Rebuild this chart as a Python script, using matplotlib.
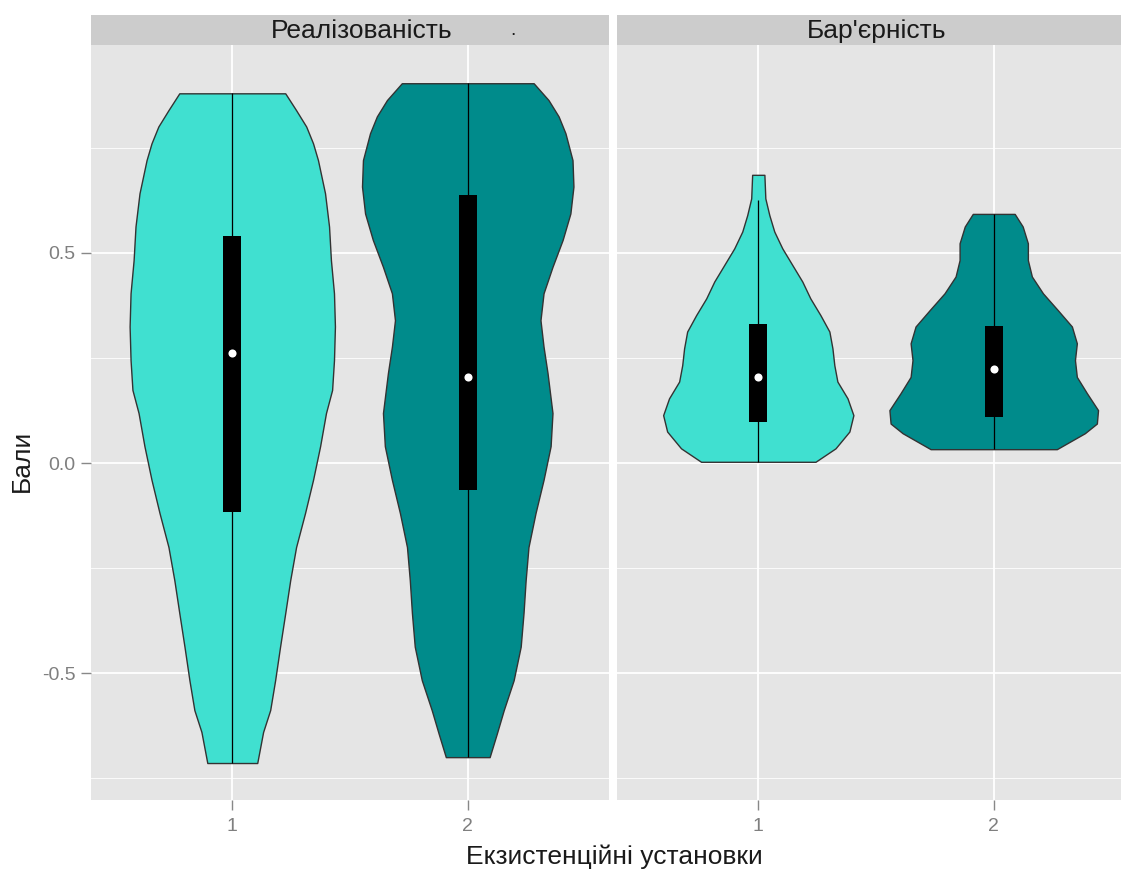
import numpy as np
import matplotlib.pyplot as plt

plt.rcParams['font.family'] = ['Liberation Sans', 'DejaVu Sans']

groups = [1, 2]
fills = ['#40E0D0', '#008B8B']
panel_names = ['Реалізованість', "Бар'єрність"]

# violin outlines: y level and half width (x units)
real1_y = [0.880, 0.840, 0.801, 0.761, 0.721, 0.642, 0.563, 0.483, 0.404, 0.325, 0.245, 0.174,
           0.119, 0.040, -0.040, -0.119, -0.200, -0.279, -0.357, -0.437, -0.517, -0.588, -0.640, -0.714]
real1_w = [0.225, 0.271, 0.314, 0.343, 0.364, 0.394, 0.411, 0.419, 0.432, 0.436, 0.432, 0.424,
           0.398, 0.373, 0.343, 0.309, 0.271, 0.246, 0.225, 0.203, 0.182, 0.161, 0.131, 0.106]
real2_y = [0.904, 0.864, 0.825, 0.785, 0.721, 0.658, 0.594, 0.531, 0.467, 0.404, 0.340, 0.277,
           0.214, 0.119, 0.040, -0.040, -0.119, -0.200, -0.279, -0.357, -0.437, -0.517, -0.588,
           -0.645, -0.700]
real2_w = [0.280, 0.343, 0.386, 0.415, 0.445, 0.449, 0.436, 0.403, 0.360, 0.322, 0.309, 0.322,
           0.339, 0.360, 0.352, 0.322, 0.288, 0.258, 0.246, 0.237, 0.225, 0.195, 0.153,
           0.123, 0.093]
bar1_y = [0.686, 0.630, 0.590, 0.551, 0.511, 0.471, 0.432, 0.392, 0.352, 0.313, 0.273, 0.233,
          0.194, 0.154, 0.114, 0.075, 0.035, 0.003]
bar1_w = [0.026, 0.030, 0.047, 0.068, 0.102, 0.145, 0.187, 0.221, 0.264, 0.302, 0.315, 0.323,
          0.336, 0.379, 0.404, 0.387, 0.328, 0.243]
bar2_y = [0.593, 0.563, 0.523, 0.483, 0.444, 0.404, 0.364, 0.325, 0.285, 0.245, 0.205, 0.166,
          0.126, 0.094, 0.071, 0.033]
bar2_w = [0.089, 0.123, 0.145, 0.145, 0.162, 0.209, 0.272, 0.332, 0.353, 0.345, 0.353, 0.396,
          0.443, 0.438, 0.387, 0.268]

# box plot stats
real_q1 = [-0.117, -0.064]
real_q3 = [0.540, 0.638]
real_med = [0.262, 0.205]
real_lo = [-0.714, -0.700]
real_hi = [0.880, 0.904]
bar_q1 = [0.098, 0.109]
bar_q3 = [0.330, 0.326]
bar_med = [0.205, 0.224]
bar_lo = [0.003, 0.033]
bar_hi = [0.626, 0.593]

panels = [
    ([(real1_y, real1_w), (real2_y, real2_w)], real_q1, real_q3, real_med, real_lo, real_hi),
    ([(bar1_y, bar1_w), (bar2_y, bar2_w)], bar_q1, bar_q3, bar_med, bar_lo, bar_hi),
]

W, H = 1121, 869
fig = plt.figure(figsize=(W / 100, H / 100), dpi=100)

# panel positions in pixels (left, right); right panel runs past the image edge
panel_px = [(91, 609), (617, 1135)]
top_px, bot_px, strip_top = 45, 800, 15

for k, (px, pdata) in enumerate(zip(panel_px, panels)):
    x0, x1 = px
    ax = fig.add_axes([x0 / W, 1 - bot_px / H, (x1 - x0) / W, (bot_px - top_px) / H])
    ax.set_facecolor('#E5E5E5')
    for s in ax.spines.values():
        s.set_visible(False)
    ax.set_xlim(0.4, 2.6)
    ax.set_ylim(-0.802, 0.995)
    ax.set_yticks([-0.5, 0.0, 0.5])
    ax.set_yticks([-0.75, -0.25, 0.25, 0.75], minor=True)
    ax.set_xticks(groups)
    ax.grid(True, which='major', color='white', lw=1.3)
    ax.grid(True, which='minor', axis='y', color='white', lw=0.6)
    ax.set_axisbelow(True)
    ax.tick_params(axis='x', which='major', colors='#888888', labelcolor='#7f7f7f',
                   labelsize=14, length=7, width=1, pad=6)
    ax.tick_params(axis='y', which='both', length=0)
    if k == 0:
        ax.tick_params(axis='y', which='major', colors='#888888', labelcolor='#7f7f7f',
                       labelsize=14, length=7, width=1, pad=4)
        ax.set_yticklabels(['-0.5', '0.0', '0.5'])
    else:
        ax.set_yticklabels([])

    outlines, q1, q3, med, lo, hi = pdata
    for i, g in enumerate(groups):
        vy, vw = np.array(outlines[i][0]), np.array(outlines[i][1])
        ax.fill_betweenx(vy, g - vw, g + vw, facecolor=fills[i], edgecolor='#333333',
                         lw=1, zorder=2)
        ax.vlines(g, lo[i], hi[i], color='black', lw=0.9, zorder=3)
        ax.fill_betweenx([q1[i], q3[i]], g - 0.038, g + 0.038, color='black', lw=0, zorder=4)
        ax.scatter([g], [med[i]], s=34, color='white', zorder=5, linewidths=0)

    # facet strip
    sax = fig.add_axes([x0 / W, 1 - top_px / H, (x1 - x0) / W, (top_px - strip_top) / H])
    sax.set_facecolor('#CCCCCC')
    sax.set_xticks([])
    sax.set_yticks([])
    for s in sax.spines.values():
        s.set_visible(False)
    sax.set_xlim(x0, x1)
    sax.set_ylim(0, 1)
    if k == 0:
        sax.text(362, 0.48, panel_names[k], ha='center', va='center', fontsize=19, color='#1a1a1a')
        sax.text(513, 0.48, '.', ha='center', va='center', fontsize=14, color='#1a1a1a')
    else:
        sax.text(877, 0.48, panel_names[k], ha='center', va='center', fontsize=19, color='#1a1a1a')

fig.text(22 / W, 1 - 461 / H, 'Бали', rotation=90, ha='center', va='center',
         fontsize=19, color='#1a1a1a')
fig.text(614 / W, 1 - 857 / H, 'Екзистенційні установки', ha='center', va='center',
         fontsize=19, color='#1a1a1a')

fig.savefig('out.png', dpi=100, facecolor='white')
